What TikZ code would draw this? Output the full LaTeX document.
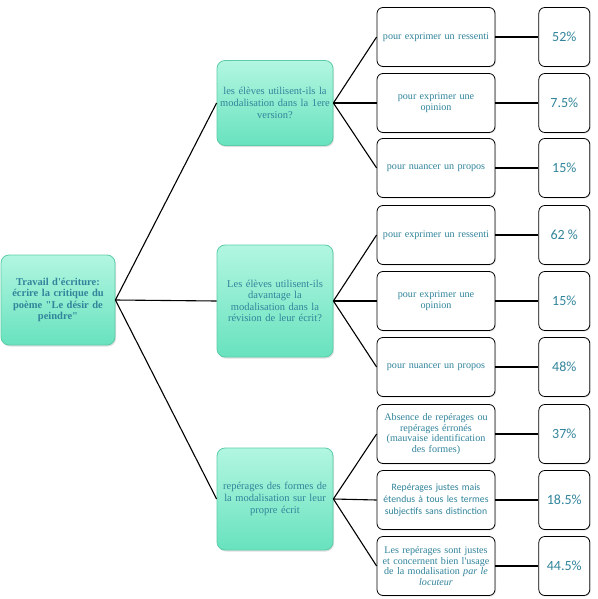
\documentclass[tikz,border=0pt]{standalone}
\usepackage{fontspec}
\setmainfont{Liberation Serif}[Ligatures=TeXOff]
\newfontfamily\calibri{Carlito}
\usetikzlibrary{positioning,shadows}

\definecolor{tealtxt}{RGB}{49,132,155}
\definecolor{mintlight}{RGB}{178,246,224}
\definecolor{mintdark}{RGB}{104,226,190}
\definecolor{mintedge}{RGB}{92,204,168}

\tikzset{
  theme/.style={rectangle,rounded corners=8pt,draw=mintedge,line width=0.8pt,
    top color=mintlight,bottom color=mintdark,text=tealtxt,align=center,
    minimum width=116pt,text width=110pt,inner sep=2pt,
    font=\fontsize{10.5}{11.6}\selectfont,
    drop shadow={opacity=0.25,shadow xshift=1pt,shadow yshift=-1.5pt}},
  answer/.style={rectangle,rounded corners=6pt,draw=black,line width=0.8pt,fill=white,
    text=tealtxt,align=center,minimum width=118pt,minimum height=59pt,
    text width=114pt,inner sep=2pt,font=\fontsize{10.1}{10.8}\selectfont,
    drop shadow={opacity=0.2,shadow xshift=1pt,shadow yshift=-1pt}},
  score/.style={rectangle,rounded corners=6pt,draw=black,line width=0.8pt,fill=white,
    text=tealtxt,minimum width=51pt,minimum height=59pt,inner sep=1pt,
    font=\calibri\fontsize{14}{15}\selectfont,
    drop shadow={opacity=0.2,shadow xshift=1pt,shadow yshift=-1pt}},
  link/.style={draw=black,line width=1.1pt},
  boldlink/.style={draw=black,line width=1.8pt}
}

\begin{document}
\begin{tikzpicture}[x=1pt,y=-1pt]
  \useasboundingbox (0,0) rectangle (597,599);

  % racine
  \node[theme,minimum width=114pt,text width=108pt,minimum height=90pt,
        font=\bfseries\fontsize{10.5}{11.4}\selectfont] (travail) at (58,300)
       {Travail d'écriture:\\écrire la critique du\\poème "Le désir de\\peindre"};

  % questions
  \node[theme,minimum height=85pt] (q1) at (275,103)
       {les élèves utilisent-ils la\\modalisation dans la 1ere\\version?};
  \node[theme,minimum height=112pt] (q2) at (275,301)
       {Les élèves utilisent-ils\\davantage la\\modalisation dans la\\révision de leur écrit?};
  \node[theme,minimum height=102pt] (q3) at (275,499)
       {repérages des formes de\\la modalisation sur leur\\propre écrit};

  % reponses
  \node[answer] (r1) at (436,37) {pour exprimer un ressenti};
  \node[answer] (r2) at (436,103) {pour exprimer une\\opinion};
  \node[answer] (r3) at (436,168) {pour nuancer un propos};
  \node[answer] (r4) at (436,235) {pour exprimer un ressenti};
  \node[answer] (r5) at (436,301) {pour exprimer une\\opinion};
  \node[answer] (r6) at (436,367) {pour nuancer un propos};
  \node[answer] (r7) at (436,434)
       {Absence de repérages ou\\repérages érronés\\(mauvaise identification\\des formes)};
  \node[answer,font=\calibri\fontsize{9.7}{11.6}\selectfont] (r8) at (436,500)
       {Repérages justes mais\\étendus à tous les termes\\subjectifs sans distinction};
  \node[answer] (r9) at (436,566)
       {Les repérages sont justes\\et concernent bien l'usage\\de la modalisation \textit{par le}\\\textit{locuteur}};

  % pourcentages
  \node[score](p1)[right=43pt of r1]{52\%};
  \node[score](p2)[right=43pt of r2]{7.5\%};
  \node[score](p3)[right=43pt of r3]{15\%};
  \node[score](p4)[right=43pt of r4]{62 \%};
  \node[score](p5)[right=43pt of r5]{15\%};
  \node[score](p6)[right=43pt of r6]{48\%};
  \node[score](p7)[right=43pt of r7]{37\%};
  \node[score](p8)[right=43pt of r8]{18.5\%};
  \node[score](p9)[right=43pt of r9]{44.5\%};

  \path[link](travail.east) edge (q1.west)
                            edge (q2.west)
                            edge (q3.west)
            (q1.east) edge (r1.west)
                      edge (r2.west)
                      edge (r3.west)
            (q2.east) edge (r4.west)
                      edge (r5.west)
                      edge (r6.west)
            (q3.east) edge (r7.west)
                      edge (r8.west)
                      edge (r9.west)
            (r2.east) edge (p2.west)
            (r5.east) edge (p5.west)
            (r7.east) edge (p7.west)
            (r8.east) edge (p8.west)
            (r9.east) edge (p9.west);
  \path[boldlink](r1.east) edge (p1.west)
                (r3.east) edge (p3.west)
                (r4.east) edge (p4.west)
                (r6.east) edge (p6.west);
\end{tikzpicture}
\end{document}
